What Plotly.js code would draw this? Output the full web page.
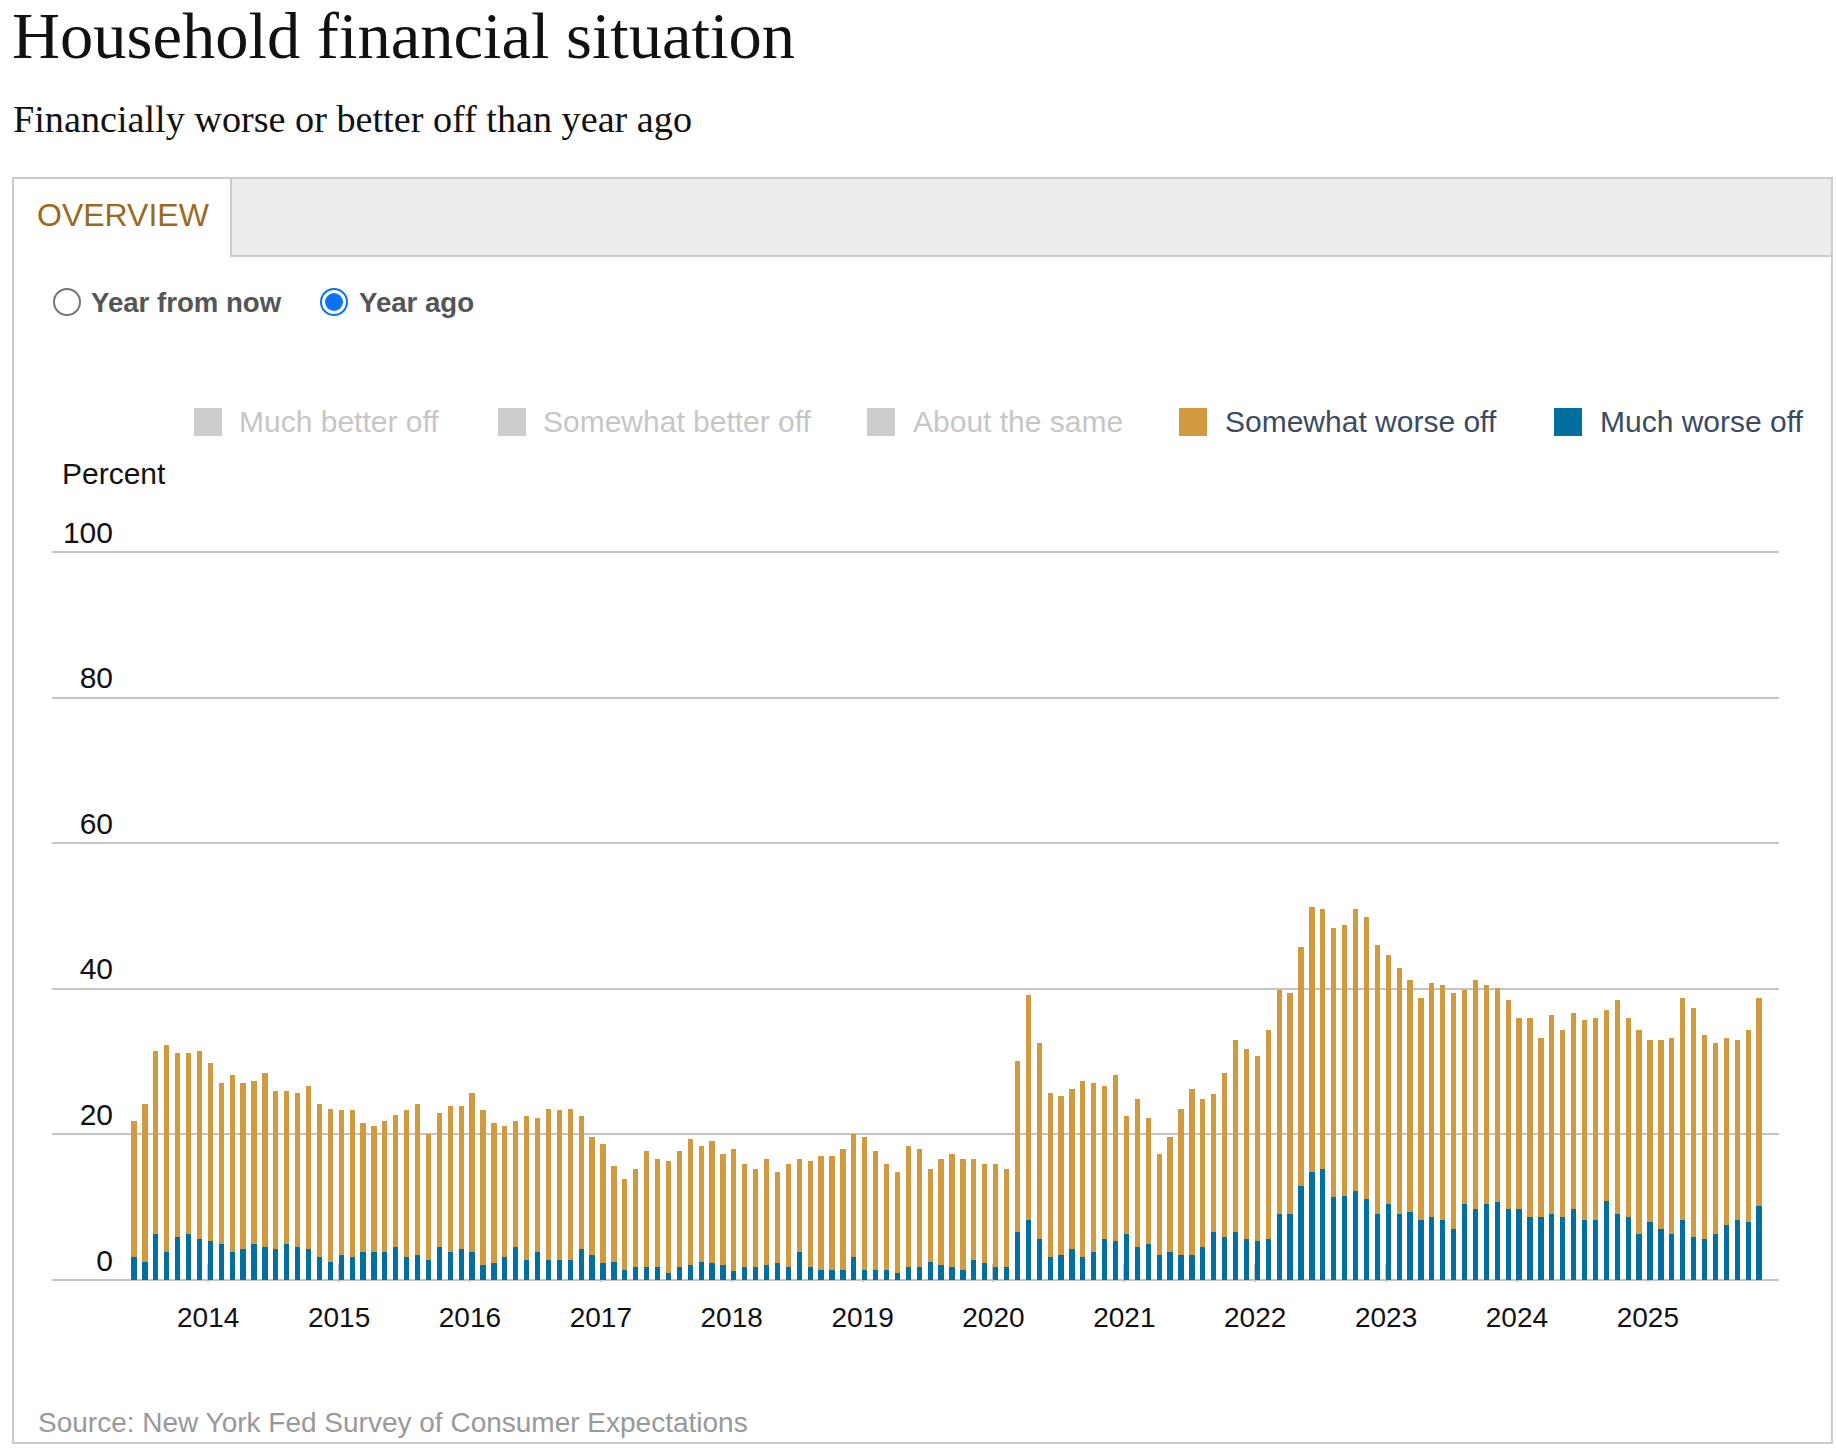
<!DOCTYPE html>
<html>
<head>
<meta charset="utf-8">
<script src="https://cdn.plot.ly/plotly-3.0.1.min.js"></script>
<style>
  html, body { margin:0; padding:0; background:#fff; }
  body { width:1836px; height:1454px; position:relative; overflow:hidden; font-family:"Liberation Sans", Arial, sans-serif; }
  .abs { position:absolute; white-space:nowrap; line-height:1; }
  #title { left:12px; top:3px; font-family:"Liberation Serif", "Times New Roman", serif; font-size:66.5px; color:#111; }
  #subtitle { left:13px; top:100px; font-family:"Liberation Serif", "Times New Roman", serif; font-size:38.2px; color:#111; }
  #box { position:absolute; left:12px; top:177px; width:1821px; height:1267px; border:2px solid #cccccc; box-sizing:border-box; }
  #tabbar { position:absolute; left:230px; top:177px; width:1603px; height:80px; background:#ededed; border-left:2px solid #cccccc; border-bottom:2px solid #cccccc; border-top:2px solid #cccccc; border-right:2px solid #cccccc; box-sizing:border-box; }
  #overview { left:37px; top:199px; font-size:32px; color:#9b6a1f; }
  .radio { position:absolute; width:28px; height:28px; border-radius:50%; box-sizing:border-box; background:#fff; }
  #r1 { left:53px; top:288px; border:2.5px solid #767676; }
  #r2 { left:320px; top:288px; border:2.5px solid #0a74f5; }
  #r2 .dot { position:absolute; left:2.5px; top:2.5px; width:18px; height:18px; border-radius:50%; background:#0a74f5; }
  .rlabel { font-size:27.6px; font-weight:bold; color:#555; top:289px; }
  #plot { position:absolute; left:0; top:0; width:1836px; height:1454px; }
  .sw { position:absolute; width:28px; height:28px; top:408px; }
  .lg { font-size:30px; top:407px; }
  .off { color:#c6c6c6; }
  .on { color:#3a4b61; }
  #percent { left:62px; top:459px; font-size:30px; color:#111; }
  #source { left:38px; top:1409px; font-size:28px; color:#999; }
</style>
</head>
<body>
<div id="plot"></div>
<div id="box"></div>
<div id="tabbar"></div>
<div class="abs" id="title">Household financial situation</div>
<div class="abs" id="subtitle">Financially worse or better off than year ago</div>
<div class="abs" id="overview">OVERVIEW</div>
<div class="radio" id="r1"></div>
<div class="abs rlabel" style="left:91px;">Year from now</div>
<div class="radio" id="r2"><div class="dot"></div></div>
<div class="abs rlabel" style="left:359px;">Year ago</div>
<div id="legend"></div>
<div class="abs" id="percent">Percent</div>
<div class="abs" id="source">Source: New York Fed Survey of Consumer Expectations</div>
<script>
// ---- data (monthly, June 2013 - November 2025) ----
const startYear = 2013, startMonth = 6;
const seriesNames = ["Much better off", "Somewhat better off", "About the same", "Somewhat worse off", "Much worse off"];
const seriesColors = ["#cccccc", "#cccccc", "#cccccc", "#d19a3f", "#006e9f"];
const seriesShown = [false, false, false, true, true];

const muchWorse = [
  3.2, 2.5, 6.3, 3.8, 5.9, 6.3, 5.6, 5.3, 4.9, 3.8, 4.2, 4.9, 4.6, 4.2, 4.9, 4.6, 4.2, 3.2, 2.5,
  3.5, 3.2, 3.8, 3.8, 3.9, 4.6, 3.2, 3.5, 2.8, 4.6, 3.9, 4.2, 3.8, 2.1, 2.4, 3.2, 4.6, 2.8, 3.8,
  2.8, 2.8, 2.8, 4.2, 3.5, 2.4, 2.5, 1.4, 1.8, 1.8, 1.8, 1.0, 1.8, 2.1, 2.5, 2.4, 2.1, 1.2, 1.8,
  1.8, 2.1, 2.4, 1.8, 3.8, 1.8, 1.4, 1.4, 1.4, 3.2, 1.4, 1.4, 1.4, 1.0, 1.8, 1.8, 2.5, 2.1, 1.8,
  1.4, 2.8, 2.4, 1.8, 1.8, 6.6, 8.3, 5.6, 3.2, 3.5, 4.2, 3.2, 3.8, 5.6, 5.3, 6.3, 4.6, 4.9,
  3.5, 3.9, 3.5, 3.5, 4.6, 6.6, 5.9, 6.6, 5.6, 5.3, 5.6, 9.1, 9.1, 12.9, 14.9, 15.3, 11.4, 11.5, 12.2,
  11.1, 9.1, 10.4, 9.1, 9.4, 8.3, 8.7, 8.3, 7.0, 10.4, 9.7, 10.4, 10.7, 9.7, 9.7, 8.7, 8.7, 9.0, 8.7,
  9.7, 8.3, 8.3, 10.8, 9.0, 8.7, 6.3, 8.0, 7.0, 6.3, 8.3, 5.9, 5.6, 6.3, 7.6, 8.3, 8.0, 10.1
];
const somewhatWorse = [
  18.7, 21.7, 25.2, 28.5, 25.3, 24.9, 25.9, 24.5, 22.2, 24.3, 22.9, 22.5, 23.8, 21.8, 21.1, 21.1, 22.4, 21.0, 21.0,
  19.8, 20.1, 17.7, 17.4, 18.0, 18.0, 20.1, 20.7, 17.3, 18.3, 20.0, 19.7, 21.9, 21.2, 19.1, 18.0, 17.3, 19.7, 18.4,
  20.7, 20.5, 20.7, 18.3, 16.2, 16.3, 13.1, 12.5, 13.5, 15.9, 14.8, 15.3, 15.9, 17.3, 15.9, 16.7, 15.2, 16.8, 14.1,
  13.5, 14.5, 12.5, 14.1, 12.8, 14.5, 15.6, 15.6, 16.6, 16.9, 18.3, 16.3, 14.5, 13.9, 16.6, 16.2, 12.8, 14.5, 15.5,
  15.2, 13.8, 13.5, 14.1, 13.5, 23.5, 30.8, 26.9, 22.5, 21.8, 22.1, 24.2, 23.2, 21.1, 22.8, 16.2, 20.3, 17.3,
  13.8, 15.8, 20.0, 22.8, 20.3, 19.0, 22.5, 26.3, 26.2, 25.5, 28.7, 30.7, 30.3, 32.8, 36.3, 35.6, 37.0, 37.3, 38.7,
  38.7, 36.9, 34.3, 33.8, 31.8, 30.5, 32.1, 32.2, 32.4, 29.4, 31.5, 30.1, 29.4, 28.7, 26.3, 27.3, 24.5, 27.4, 25.6,
  27.0, 27.4, 27.7, 26.3, 29.4, 27.3, 28.0, 24.9, 25.9, 26.9, 30.5, 31.5, 28.0, 26.2, 25.6, 24.6, 26.3, 28.7
];
const tickYears = ["2014", "2015", "2016", "2017", "2018", "2019", "2020", "2021", "2022", "2023", "2024", "2025"];
const yTicks = [0, 20, 40, 60, 80, 100];

// ---- month labels and positions ----
const monthNames = ["Jan","Feb","Mar","Apr","May","Jun","Jul","Aug","Sep","Oct","Nov","Dec"];
const idx = [], monthLabels = [];
for (let i = 0; i < muchWorse.length; i++) {
  const m = (startMonth - 1 + i) % 12, y = startYear + Math.floor((startMonth - 1 + i) / 12);
  idx.push(i); monthLabels.push(monthNames[m] + " " + y);
}
const tickVals = tickYears.map(y => (parseInt(y) - startYear) * 12 - (startMonth - 1) - 0.2);

// ---- legend (HTML) ----
const lgPos = [[194, 239], [498, 543], [867, 913], [1179, 1225], [1554, 1600]];
const legend = document.getElementById('legend');
seriesNames.forEach((n, k) => {
  const sw = document.createElement('div');
  sw.className = 'sw'; sw.style.left = lgPos[k][0] + 'px'; sw.style.background = seriesColors[k];
  legend.appendChild(sw);
  const t = document.createElement('div');
  t.className = 'abs lg ' + (seriesShown[k] ? 'on' : 'off'); t.style.left = lgPos[k][1] + 'px'; t.textContent = n;
  legend.appendChild(t);
});

const traces = [
  { type: 'bar', name: seriesNames[4], x: idx, y: muchWorse, customdata: monthLabels,
    marker: { color: seriesColors[4], line: { width: 0 } },
    hovertemplate: '%{customdata}<br>Much worse off: %{y}%<extra></extra>' },
  { type: 'bar', name: seriesNames[3], x: idx, y: somewhatWorse, customdata: monthLabels,
    marker: { color: seriesColors[3], line: { width: 0 } },
    hovertemplate: '%{customdata}<br>Somewhat worse off: %{y}%<extra></extra>' }
];

const layout = {
  width: 1836, height: 1454,
  margin: { l: 52, r: 57, t: 550, b: 172, pad: 0 },
  paper_bgcolor: 'rgba(0,0,0,0)', plot_bgcolor: 'rgba(0,0,0,0)',
  barmode: 'stack', bargap: 0.52,
  showlegend: false,
  font: { family: 'Liberation Sans, Arial, sans-serif', size: 28, color: '#111' },
  xaxis: {
    type: 'linear', range: [-7.52, 150.83], fixedrange: true,
    tickmode: 'array', tickvals: tickVals, ticktext: tickYears,
    ticks: 'inside', ticklen: 18, tickwidth: 2, tickcolor: '#c4c4c4',
    showgrid: false, zeroline: false, showline: false, layer: 'below traces',
    tickfont: { size: 28, color: '#111' }, ticklabelstandoff: 16
  },
  yaxis: {
    range: [-0.275, 100.275], fixedrange: true,
    tickmode: 'array', tickvals: yTicks,
    showgrid: true, gridcolor: '#c4c4c4', gridwidth: 2,
    zeroline: true, zerolinecolor: '#c4c4c4', zerolinewidth: 2,
    showline: false, ticks: '',
    tickfont: { size: 30, color: '#111' },
    ticklabelposition: 'outside', ticklabelstandoff: -62, ticklabelshift: -20
  }
};
Plotly.newPlot('plot', traces, layout, { displayModeBar: false, staticPlot: false });
</script>
</body>
</html>
